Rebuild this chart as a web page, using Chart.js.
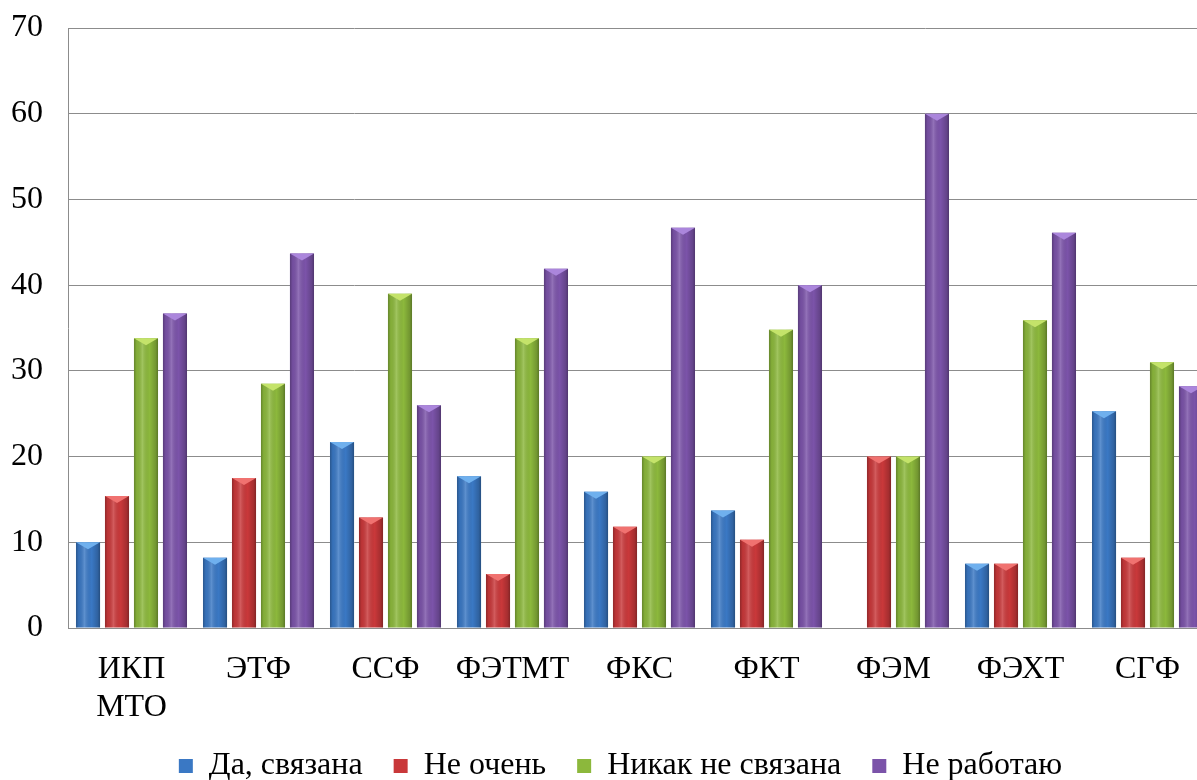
<!DOCTYPE html>
<html>
<head>
<meta charset="utf-8">
<script src="https://cdn.jsdelivr.net/npm/chart.js@4"></script>
<style>
  html, body { margin: 0; padding: 0; background: #fff; overflow: hidden; }
  #wrap { width: 1215px; height: 780px; }
</style>
</head>
<body>
<div id="wrap"><canvas id="chart"></canvas></div>
<script>
// факультеты
const faculties = [['ИКП', 'МТО'], 'ЭТФ', 'ССФ', 'ФЭТМТ', 'ФКС', 'ФКТ', 'ФЭМ', 'ФЭХТ', 'СГФ'];

// значения (%)
const daSvyazana   = [10.0, 8.2, 21.7, 17.7, 15.9, 13.7, 0, 7.5, 25.3];
const neOchen      = [15.4, 17.5, 12.9, 6.3, 11.8, 10.3, 20, 7.5, 8.2];
const nikakNe      = [33.8, 28.5, 39.0, 33.8, 20.0, 34.8, 20, 35.9, 31.0];
const neRabotayu   = [36.7, 43.7, 26.0, 41.9, 46.7, 40.0, 60, 46.1, 28.2];

const yTicks = [0, 10, 20, 30, 40, 50, 60, 70];

const colors = {
  blue:   '#3a78c4',
  red:    '#c9383a',
  green:  '#8cb83c',
  purple: '#7b53a9'
};
const tops = {
  blue:   '#6fb0ee',
  red:    '#f07270',
  green:  '#c4e36a',
  purple: '#ab86dc'
};

// объёмный вид столбиков
const bevel = {
  id: 'bevel',
  afterDatasetsDraw(chart) {
    const ctx = chart.ctx;
    chart.data.datasets.forEach((ds, i) => {
      const meta = chart.getDatasetMeta(i);
      meta.data.forEach(bar => {
        const p = bar.getProps(['x', 'y', 'base', 'width'], true);
        const h = p.base - p.y;
        if (h < 1) return;
        const l = p.x - p.width / 2;
        const g = ctx.createLinearGradient(l, 0, l + p.width, 0);
        g.addColorStop(0, 'rgba(0,0,0,0.28)');
        g.addColorStop(0.12, 'rgba(0,0,0,0.05)');
        g.addColorStop(0.35, 'rgba(255,255,255,0.18)');
        g.addColorStop(0.65, 'rgba(0,0,0,0)');
        g.addColorStop(0.9, 'rgba(0,0,0,0.18)');
        g.addColorStop(1, 'rgba(0,0,0,0.35)');
        ctx.save();
        ctx.fillStyle = g;
        ctx.fillRect(l, p.y, p.width, h);
        ctx.beginPath();
        ctx.moveTo(l, p.y);
        ctx.lineTo(l + p.width, p.y);
        ctx.lineTo(p.x, p.y + Math.min(7, h));
        ctx.closePath();
        ctx.fillStyle = ds.topColor;
        ctx.fill();
        ctx.restore();
      });
    });
  }
};

// легенда: широкие промежутки между элементами, но низкий блок
const legendFix = {
  id: 'legendFix',
  beforeLayout(chart) {
    const lg = chart.legend;
    if (lg && !lg._patched) {
      const fit = lg.fit;
      lg.fit = function () { fit.call(this); this.height = 56; };
      lg._patched = true;
    }
  },
  afterLayout(chart) {
    const lg = chart.legend;
    if (!lg) return;
    lg.top -= 5;
    lg.left += 15; lg.right += 15;
  }
};

const serif = "'Liberation Serif', 'Times New Roman', serif";

new Chart(document.getElementById('chart'), {
  type: 'bar',
  data: {
    labels: faculties,
    datasets: [
      { label: 'Да, связана', data: daSvyazana, backgroundColor: colors.blue, topColor: tops.blue },
      { label: 'Не очень', data: neOchen, backgroundColor: colors.red, topColor: tops.red },
      { label: 'Никак не связана', data: nikakNe, backgroundColor: colors.green, topColor: tops.green },
      { label: 'Не работаю', data: neRabotayu, backgroundColor: colors.purple, topColor: tops.purple }
    ]
  },
  options: {
    responsive: true,
    maintainAspectRatio: false,
    animation: false,
    layout: { padding: { top: 28, left: 0, right: 4, bottom: 0 } },
    datasets: { bar: { categoryPercentage: 0.913, barPercentage: 0.83 } },
    plugins: {
      legend: {
        position: 'bottom',
        labels: {
          color: '#000',
          font: { family: serif, size: 32 },
          boxWidth: 14,
          boxHeight: 14,
          padding: 31
        }
      },
      tooltip: { enabled: false }
    },
    scales: {
      x: {
        afterFit(axis) { axis.height = 96; },
        grid: { display: false, drawTicks: false },
        border: { color: '#8c8c8c' },
        ticks: {
          color: '#000',
          font: { family: serif, size: 32 },
          padding: 22,
          maxRotation: 0,
          autoSkip: false
        }
      },
      y: {
        min: 0,
        max: 70,
        afterFit(axis) {
          axis.width = 68;
          axis.paddingTop = 0;
          axis.paddingBottom = 0;
        },
        afterBuildTicks(axis) { axis.ticks = yTicks.map(v => ({ value: v })); },
        grid: { color: '#8c8c8c', drawTicks: false },
        border: { color: '#8c8c8c' },
        ticks: {
          color: '#000',
          font: { family: serif, size: 32 },
          padding: 25
        }
      }
    }
  },
  plugins: [bevel, legendFix]
});
</script>
</body>
</html>
